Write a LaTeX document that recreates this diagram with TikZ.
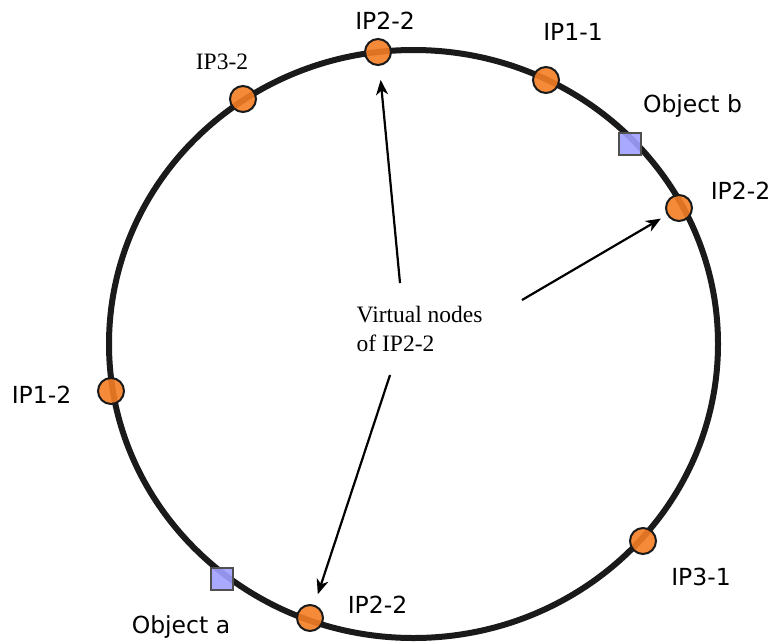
\documentclass[tikz,border=0pt]{standalone}
\usepackage{fontspec}
\setmainfont{Liberation Serif}
\newfontfamily\labelsans{DejaVu Sans}
\usetikzlibrary{arrows.meta}
\definecolor{ringc}{HTML}{1A1A1A}
\definecolor{vnode}{HTML}{F47D24}
\definecolor{objc}{HTML}{A0A0FF}
\definecolor{objborder}{HTML}{505050}
\tikzset{
  ring/.style={draw=ringc, line width=6pt},
  vn/.style={circle, draw=ringc, line width=2pt, fill=vnode, fill opacity=0.9, draw opacity=1, minimum size=26pt, inner sep=0pt},
  obj/.style={rectangle, draw=objborder, line width=1.3pt, fill=objc, fill opacity=0.9, draw opacity=1, minimum size=22pt, inner sep=0pt},
  slab/.style={font=\labelsans\fontsize{23.5}{28}\selectfont, anchor=base, inner sep=0pt},
  rlab/.style={font=\fontsize{23.5}{29}\selectfont, inner sep=0pt},
  pointer/.style={draw=black, line width=2.2pt, -{Stealth[length=15pt,width=12pt,inset=4.5pt]}}
}
\begin{document}
\begin{tikzpicture}[x=1pt,y=-1pt]
\useasboundingbox (0,0) rectangle (773,643);
% ring
\draw[ring] (413.5,344) ellipse [x radius=304.5, y radius=294];
% virtual nodes
\node[vn] (n22top) at (378,52) {};
\node[vn] (n32) at (243,99) {};
\node[vn] (n11) at (546,80) {};
\node[vn] (n22right) at (679,208) {};
\node[vn] (n12) at (111,391) {};
\node[vn] (n31) at (643,541) {};
\node[vn] (n22bot) at (310,618) {};
% objects
\node[obj] (objb) at (630,144) {};
\node[obj] (obja) at (222,579) {};
% labels
\node[slab] (l22top) at (385,29) {IP2-2};
\node[slab] (l11) at (573,40) {IP1-1};
\node[slab] (lobjb) at (692.5,112) {Object b};
\node[slab] (l22right) at (740.5,199) {IP2-2};
\node[slab] (l12) at (41.5,403) {IP1-2};
\node[slab] (lobja) at (181,633) {Object a};
\node[slab] (l22bot) at (377.5,613) {IP2-2};
\node[slab] (l31) at (701,585) {IP3-1};
\node[rlab, anchor=base] (l32) at (222,69) {IP3-2};
\node[rlab, anchor=west, align=left] (vtext) at (356.5,328.5) {Virtual nodes\\of IP2-2};
% arrows
\coordinate (s1) at (400,283);
\coordinate (s2) at (522,300);
\coordinate (s3) at (390,375);
\draw[pointer, shorten >=14pt] (s1) -- (n22top);
\draw[pointer, shorten >=7pt] (s2) -- (n22right);
\draw[pointer, shorten >=11pt] (s3) -- (n22bot);
\end{tikzpicture}
\end{document}
